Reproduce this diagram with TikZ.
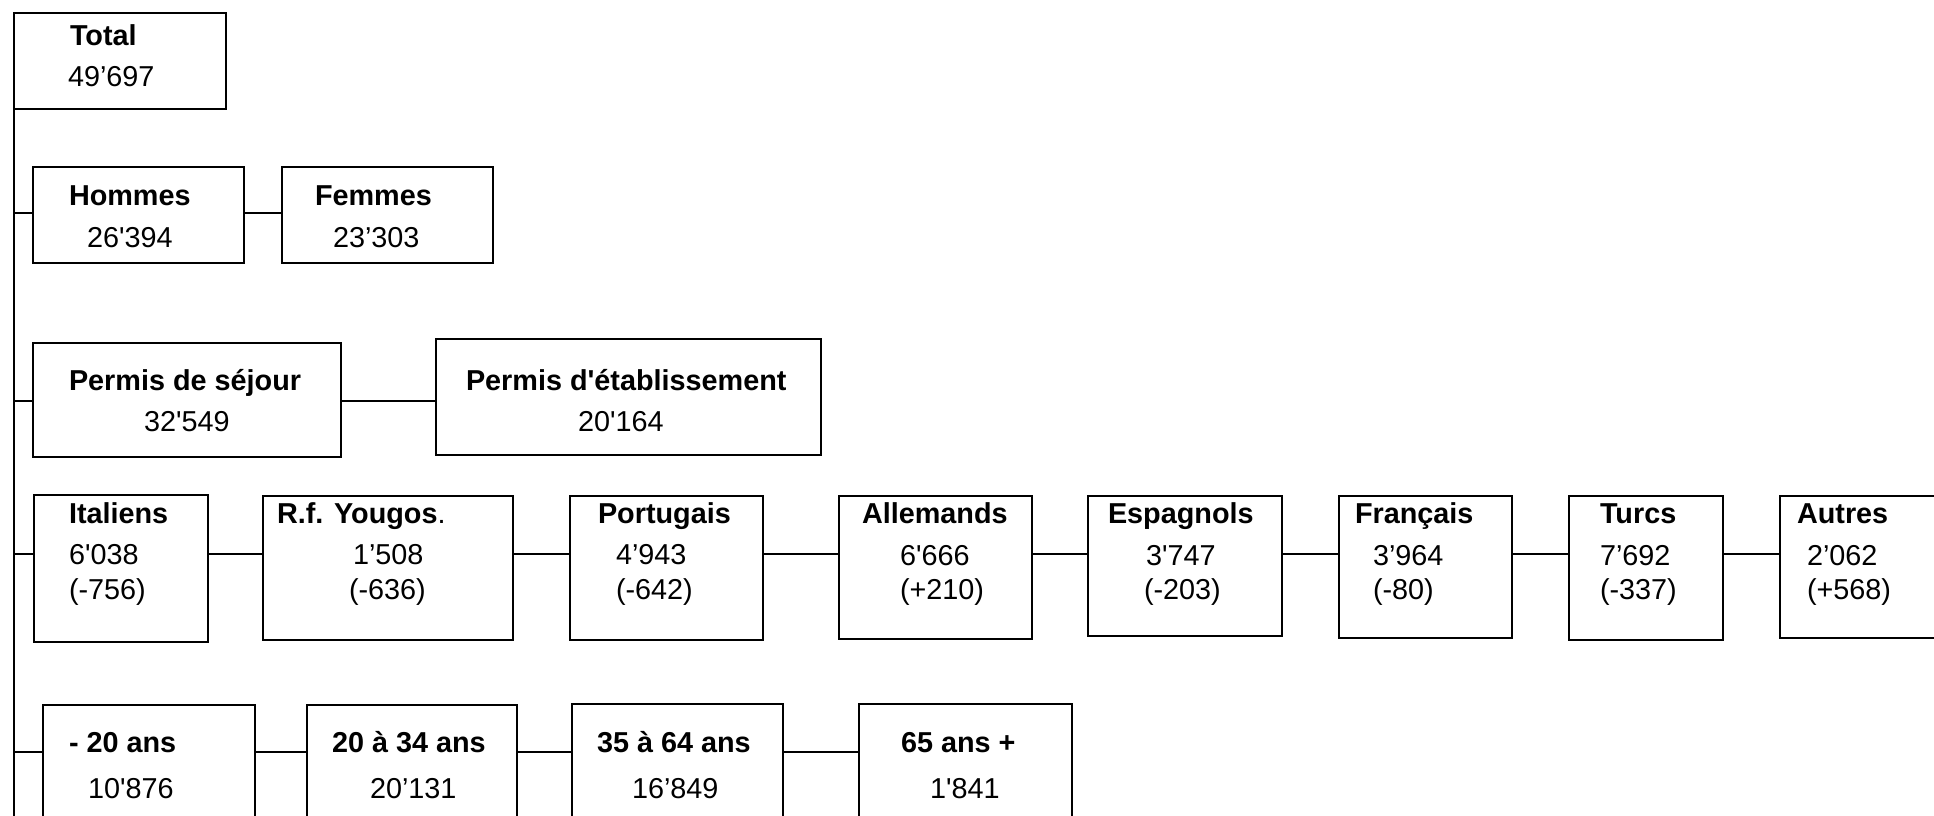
\documentclass[tikz,border=0pt]{standalone}
\usepackage{fontspec}
\setmainfont{Liberation Sans}
\newcommand\sq{\textquotesingle}
\tikzset{
  boxst/.style={draw=black, line width=2.5pt, fill=white, inner sep=0pt, outer sep=0pt, anchor=north west},
  lbl/.style={anchor=base west, inner sep=0pt, outer sep=0pt, font=\fontsize{28.8}{34}\selectfont\bfseries},
  num/.style={anchor=base west, inner sep=0pt, outer sep=0pt, font=\fontsize{28.8}{34}\selectfont},
  conn/.style={draw=black, line width=2.5pt},
}
\newcommand\bx[5]{\node[boxst, minimum width=#4pt, minimum height=#5pt] (#1) at (#2,#3) {};}
\begin{document}
\begin{tikzpicture}[x=1pt,y=-1pt]
\useasboundingbox (0,0) rectangle (1934,815);
\clip (0,0) rectangle (1934,815);
\fill[white] (0,0) rectangle (1934,815);
% boxes: name, x, y, width, height
\bx{total}{14}{13}{212}{96}
\bx{hommes}{33}{167}{211}{96}
\bx{femmes}{282}{167}{211}{96}
\bx{sejour}{33}{343}{308}{114}
\bx{etab}{436}{339}{385}{116}
\bx{ital}{34}{495}{174}{147}
\bx{yougo}{263}{496}{250}{144}
\bx{portu}{570}{496}{193}{144}
\bx{allem}{839}{496}{193}{143}
\bx{espa}{1088}{496}{194}{140}
\bx{fran}{1339}{496}{173}{142}
\bx{turcs}{1569}{496}{154}{144}
\bx{autres}{1780}{496}{200}{142}
\bx{ageA}{43}{705}{212}{150}
\bx{ageB}{307}{705}{210}{150}
\bx{ageC}{572}{704}{211}{150}
\bx{ageD}{859}{704}{213}{150}
% spine and row levels
\coordinate (spineend) at (14,830);
\draw[conn] (total.south west) -- (spineend);
\coordinate (r1) at (14,213);
\coordinate (r2) at (14,401);
\coordinate (r3) at (14,554);
\coordinate (r4) at (14,752);
\draw[conn] (r1) -- (r1 -| hommes.west);
\draw[conn] (hommes.east |- r1) -- (femmes.west |- r1);
\draw[conn] (r2) -- (r2 -| sejour.west);
\draw[conn] (sejour.east |- r2) -- (etab.west |- r2);
\draw[conn] (r3) -- (r3 -| ital.west);
\draw[conn] (ital.east |- r3) -- (yougo.west |- r3);
\draw[conn] (yougo.east |- r3) -- (portu.west |- r3);
\draw[conn] (portu.east |- r3) -- (allem.west |- r3);
\draw[conn] (allem.east |- r3) -- (espa.west |- r3);
\draw[conn] (espa.east |- r3) -- (fran.west |- r3);
\draw[conn] (fran.east |- r3) -- (turcs.west |- r3);
\draw[conn] (turcs.east |- r3) -- (autres.west |- r3);
\draw[conn] (r4) -- (r4 -| ageA.west);
\draw[conn] (ageA.east |- r4) -- (ageB.west |- r4);
\draw[conn] (ageB.east |- r4) -- (ageC.west |- r4);
\draw[conn] (ageC.east |- r4) -- (ageD.west |- r4);
% texts
\node[lbl] (tTotal) at (70,45) {Total};
\node[num] (nTotal) at (68,86) {49’697};
\node[lbl] (tHom) at (69,205) {Hommes};
\node[num] (nHom) at (87,247) {26\sq394};
\node[lbl] (tFem) at (315,205) {Femmes};
\node[num] (nFem) at (333,247) {23’303};
\node[lbl] (tSej) at (69,390) {Permis de séjour};
\node[num] (nSej) at (144,431) {32\sq549};
\node[lbl] (tEtab) at (466,390) {Permis d\sq établissement};
\node[num] (nEtab) at (578,431) {20\sq164};
\node[lbl] (tIt) at (69,523) {Italiens};
\node[num] (nIt) at (69,564) {6\sq038};
\node[num] (dIt) at (69,599) {(-756)};
\node[lbl] (tYu) at (277,523) {R.f. Yougos\mdseries.};
\node[num] (nYu) at (353,564) {1’508};
\node[num] (dYu) at (349,599) {(-636)};
\node[lbl] (tPo) at (598,523) {Portugais};
\node[num] (nPo) at (616,564) {4’943};
\node[num] (dPo) at (616,599) {(-642)};
\node[lbl] (tAl) at (862,523) {Allemands};
\node[num] (nAl) at (900,565) {6\sq666};
\node[num] (dAl) at (900,599) {(+210)};
\node[lbl] (tEs) at (1108,523) {Espagnols};
\node[num] (nEs) at (1146,565) {3\sq747};
\node[num] (dEs) at (1144,599) {(-203)};
\node[lbl] (tFr) at (1355,523) {Français};
\node[num] (nFr) at (1373,565) {3’964};
\node[num] (dFr) at (1373,599) {(-80)};
\node[lbl] (tTu) at (1600,523) {Turcs};
\node[num] (nTu) at (1600,565) {7’692};
\node[num] (dTu) at (1600,599) {(-337)};
\node[lbl] (tAu) at (1797,523) {Autres};
\node[num] (nAu) at (1807,565) {2’062};
\node[num] (dAu) at (1807,599) {(+568)};
\node[lbl] (tA1) at (69,752) {- 20 ans};
\node[num] (nA1) at (88,798) {10\sq876};
\node[lbl] (tA2) at (332,752) {20 à 34 ans};
\node[num] (nA2) at (370,798) {20’131};
\node[lbl] (tA3) at (597,752) {35 à 64 ans};
\node[num] (nA3) at (632,798) {16’849};
\node[lbl] (tA4) at (901,752) {65 ans +};
\node[num] (nA4) at (930,798) {1\sq841};
\end{tikzpicture}
\end{document}
